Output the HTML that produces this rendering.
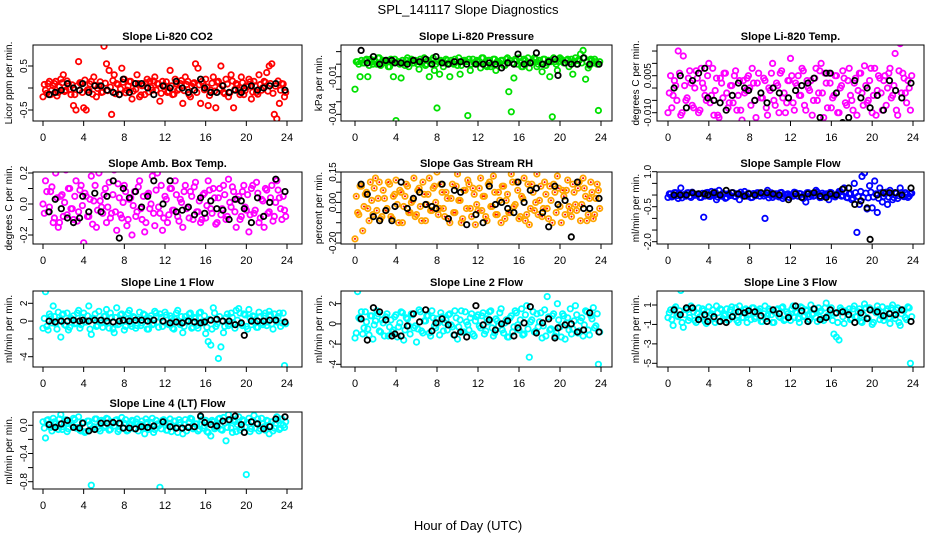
<!DOCTYPE html>
<html><head><meta charset="utf-8"><style>
html,body{margin:0;padding:0;background:#fff;}
svg{display:block;font-family:"Liberation Sans",Arial,sans-serif;}
</style></head><body>
<svg id="chart" width="936" height="540" viewBox="0 0 936 540" xmlns="http://www.w3.org/2000/svg">
<rect width="936" height="540" fill="#fff"/>
<text x="468" y="14" text-anchor="middle" font-size="13">SPL_141117  Slope Diagnostics</text>
<text x="468" y="530" text-anchor="middle" font-size="13">Hour of Day (UTC)</text>
</svg>
<script>
const hours=[0,0.25,0.5,0.75,1,1.25,1.5,1.75,2,2.25,2.5,2.75,
3,3.25,3.5,3.75,4,4.25,4.5,4.75,5,5.25,5.5,5.75,
6,6.25,6.5,6.75,7,7.25,7.5,7.75,8,8.25,8.5,8.75,
9,9.25,9.5,9.75,10,10.25,10.5,10.75,11,11.25,11.5,11.75,
12,12.25,12.5,12.75,13,13.25,13.5,13.75,14,14.25,14.5,14.75,
15,15.25,15.5,15.75,16,16.25,16.5,16.75,17,17.25,17.5,17.75,
18,18.25,18.5,18.75,19,19.25,19.5,19.75,20,20.25,20.5,20.75,
21,21.25,21.5,21.75,22,22.25,22.5,22.75,23,23.25,23.5,23.75];
const coreHours=[0.125,0.375,0.625,0.875,1.125,1.375,1.625,1.875,2.125,2.375,2.625,2.875,
3.125,3.375,3.625,3.875,4.125,4.375,4.625,4.875,5.125,5.375,5.625,5.875,
6.125,6.375,6.625,6.875,7.125,7.375,7.625,7.875,8.125,8.375,8.625,8.875,
9.125,9.375,9.625,9.875,10.125,10.375,10.625,10.875,11.125,11.375,11.625,11.875,
12.125,12.375,12.625,12.875,13.125,13.375,13.625,13.875,14.125,14.375,14.625,14.875,
15.125,15.375,15.625,15.875,16.125,16.375,16.625,16.875,17.125,17.375,17.625,17.875,
18.125,18.375,18.625,18.875,19.125,19.375,19.625,19.875,20.125,20.375,20.625,20.875,
21.125,21.375,21.625,21.875,22.125,22.375,22.625,22.875,23.125,23.375,23.625,23.875];
const blackHours=[0.6,1.2,1.8,2.4,3.0,3.6,3.9,4.5,5.1,5.7,
6.3,6.9,7.5,7.9,8.5,9.1,9.7,10.3,10.9,11.8,
12.5,13.1,13.7,14.3,14.9,15.5,15.9,16.5,17.1,17.7,
18.3,18.9,19.5,19.8,20.5,21.1,21.7,22.3,22.9,23.8];
const xTicks=[0,4,8,12,16,20,24];

const co2Vals=[-20,-5,10,-15,5,15,-10,20,30,-5,10,-15,
-40,-50,60,10,-45,-50,-5,15,25,-20,5,-10,
95,55,40,-60,30,10,-15,45,20,-5,15,-25,
10,30,-20,5,-15,20,15,-5,25,10,-30,15,
5,-10,40,-15,20,-5,10,-35,25,15,-20,10,
55,45,-35,10,20,-40,-5,25,-45,15,50,-10,
20,-20,30,-45,10,-5,25,-15,5,20,-25,15,
-10,30,-5,15,35,50,55,-60,-70,-35,10,-20];
const co2Core=[8,-12,15,-5,10,-18,3,12,-8,16,-3,7,
-15,5,12,-10,18,-4,9,-14,6,-1,14,-9,
11,-6,2,17,-13,8,-2,13,-11,4,15,-7,
-3,10,-16,6,12,-9,1,16,-5,9,-12,3,
14,-8,5,-14,10,-2,17,-6,8,-15,4,12,
-10,7,15,-4,2,-17,11,-7,13,-1,6,-13,
9,-11,16,-3,7,-15,12,-6,3,14,-9,5,
-14,8,1,13,-7,10,-12,4,16,-5,9,-10];
const co2Black=[-15,-10,-5,10,0,-5,10,-10,5,5,
-5,-10,-15,20,-10,10,10,0,-15,5,
0,15,0,-10,-5,20,0,-10,-10,5,
-10,-5,-10,0,5,-5,0,5,10,-5];

const presVals=[-20,2,-10,1,3,-10,4,0,2,5,-1,3,
1,-2,4,-10,-45,2,-11,1,3,-2,4,1,
2,-4,1,5,0,-10,3,-5,-35,-8,2,1,
3,-10,1,4,-1,-8,2,3,-41,-5,4,1,
2,-3,5,-1,3,-2,4,-5,2,3,-1,4,
-22,-38,-11,3,5,-2,4,1,-3,2,5,-2,
3,-6,4,1,-10,-42,2,-5,5,3,1,4,
2,-8,5,3,8,11,-12,-3,4,1,2,-37];
const presCore=[2,0,3,1,4,-1,2,3,0,5,1,2,
3,-2,1,4,2,0,3,-1,5,2,1,3,
0,4,2,-1,3,1,5,0,2,3,-2,4,
1,3,0,2,5,-1,3,2,4,0,1,3,
2,5,1,-2,3,0,4,2,1,3,-1,5,
3,1,4,0,2,-2,3,5,1,2,4,0,
1,4,-1,3,2,5,0,2,4,1,3,-2,
4,2,0,3,1,5,2,-1,3,4,0,2];
const presBlack=[11,1,6,0,3,3,1,1,0,3,
2,4,0,6,1,0,2,2,0,0,
0,1,0,-3,1,0,8,0,1,9,
0,2,4,-9,1,0,0,5,0,0];

const liTempVals=[-10,5,-3,1,15,-11,13,-5,4,2,-8,7,
-10,8,0,-5,10,-3,-11,4,-12,2,6,-2,
-6,1,5,-9,3,-13,-2,4,0,8,-5,2,
-19,-4,3,-11,-1,10,-7,1,6,-4,-10,3,
12,-6,2,5,-3,7,-9,0,3,-5,8,-2,
10,-12,2,6,-8,-3,5,-10,1,4,-7,8,
-5,2,-11,6,-2,9,-6,3,-10,8,-1,4,
-9,5,0,8,-3,14,-11,18,6,-2,3,-9];
const liTempCore=[-2,-8,3,-5,6,-10,1,-4,7,-7,0,4,
-9,2,-3,5,-6,8,-1,-11,4,-4,6,-8,
1,-6,7,-3,-9,3,-1,5,-7,2,-12,6,
-4,4,-8,0,6,-5,2,-10,7,-2,-6,3,
5,-9,1,-3,8,-7,3,-1,-11,4,-5,7,
-2,6,-8,2,-4,5,-10,0,7,-6,3,-3,
-9,4,-1,6,-7,1,-5,8,-3,-11,5,-2,
3,-7,6,-4,1,-9,7,-2,4,-6,0,5];
const liTempBlack=[0,5,-8,3,6,8,-4,-5,-6,-9,
-3,2,0,-1,-5,-2,-6,0,-2,-4,
-1,1,2,4,-12,6,6,-2,-14,-12,
3,-4,0,-8,-3,-9,3,-1,-4,2];

const ambVals=[0,15,-5,8,-12,20,-15,5,-8,22,10,-3,
-10,15,-5,12,-25,5,-8,18,2,-15,20,-2,
6,-12,14,-6,22,-17,4,-9,12,-14,3,-20,
8,-5,15,-10,-18,6,-3,18,-14,20,-6,-17,
5,-12,10,-4,15,-8,3,-15,12,-2,8,-10,
14,-5,-12,6,-9,15,-3,10,-13,4,-7,12,
-10,16,-2,8,-15,5,-8,12,-4,-18,10,-6,
14,-12,3,-15,9,-5,12,-8,15,4,-10,-4];
const ambCore=[-6,8,-2,11,-9,4,-12,6,1,-7,10,-3,
5,-11,9,-1,7,-8,3,-13,12,-4,2,-6,
10,-2,-9,6,-5,13,-7,1,8,-10,4,-1,
-8,11,-3,5,-12,7,0,-6,9,-2,12,-9,
3,-7,10,-4,6,-11,1,8,-3,-9,5,11,
-5,2,-10,7,-1,9,-6,4,-12,10,-3,6,
-8,1,11,-5,3,-10,8,-2,6,-7,12,-4,
7,-9,2,10,-6,4,-11,1,9,-3,5,-8];
const ambBlack=[-5,3,-3,-9,-12,-9,5,-5,7,-5,
5,15,-22,10,4,8,-2,5,15,0,
15,-5,-4,-2,-7,4,-6,2,-3,-4,
-10,3,2,-3,-12,4,-8,1,16,8];

const rhVals=[-18,-5,8,-14,4,-3,10,-6,12,2,-8,6,
-4,10,-7,3,11,-10,5,-2,9,-5,0,12,
-6,7,-9,4,-1,12,-4,8,15,-3,5,-7,
2,-10,9,-5,14,1,-8,6,11,-3,7,-11,
-4,12,3,-7,9,-2,13,-6,5,-10,8,1,
-5,14,-2,10,-8,3,12,-6,-11,9,-4,14,
1,-7,10,-3,8,-10,5,13,-2,6,-6,11,
-4,9,-1,7,-9,12,3,-6,10,-8,2,6];
const rhCore=[3,-6,8,-2,5,-9,1,7,-4,10,-7,2,
-3,9,-8,4,-1,6,-10,3,8,-5,1,-7,
6,-2,10,-9,4,-4,7,0,-6,9,-3,5,
-8,2,-5,8,1,-10,6,-3,9,-7,4,-1,
7,-4,3,-9,10,-2,5,-6,1,8,-8,4,
-5,10,-1,6,-7,2,-9,9,-3,5,0,-6,
8,-3,4,-8,1,9,-5,7,-10,3,6,-2,
-7,5,-4,10,-1,7,-9,2,5,-6,9,-3];
const rhBlack=[9,4,-7,-9,-4,-9,-2,10,-3,2,
5,-1,-2,-3,9,-8,6,5,-11,-6,
-10,8,-1,0,-3,-5,10,0,6,7,
-5,-12,8,-1,1,-17,10,-3,-3,2];

const flowVals=[-10,5,-5,10,-15,30,0,-5,10,-10,5,0,
5,-10,-95,10,-5,15,0,-20,20,-5,5,-10,
0,10,-5,5,-20,0,15,-5,5,-10,0,10,
-5,5,-100,20,0,-10,5,-5,10,-15,0,5,
0,-5,10,-5,5,-15,-30,10,0,-5,20,5,
-10,0,5,-20,10,-5,0,15,-5,30,-10,5,
-20,50,-160,-40,80,95,-60,40,-55,60,-75,30,
-30,5,-40,20,-20,10,-15,30,-5,10,-10,5];
const flowCore=[5,-8,10,-3,6,-12,2,9,-5,12,-1,4,
-10,7,-4,11,-6,3,13,-9,1,8,-14,5,
-2,10,-7,4,12,-5,0,8,-11,6,-3,9,
7,-4,2,-12,9,-1,5,-8,11,-6,3,-10,
-5,12,-3,6,-9,1,10,-7,4,-2,13,-11,
8,-6,3,11,-4,-8,5,14,-2,9,-12,6,
-15,10,-6,15,-10,8,-12,12,-8,5,-14,10,
-6,12,-9,4,-11,7,-3,10,-7,2,-5,8];
const flowBlack=[0,0,0,10,5,5,0,10,0,20,
10,5,-5,5,0,10,10,5,0,-20,
5,-10,5,10,-5,-10,5,0,25,30,
-40,-25,-55,-190,0,10,10,10,0,30];

const line1Vals=[-8,33,-10,5,17,-3,10,-18,8,-5,-10,3,
6,-2,12,-4,9,-1,17,-15,3,-6,11,-2,
5,13,-8,4,-13,15,-3,8,-10,2,12,-6,
4,-5,10,-2,7,-9,3,-4,11,-1,8,-6,
10,-3,6,-8,2,12,-4,-13,5,-1,9,-7,
3,-8,10,-2,-14,-23,-27,15,-6,-42,-29,-13,
4,-5,9,-2,12,14,-3,8,-6,13,-4,5,
-7,10,-2,6,-5,11,-3,8,-1,9,-2,-50];
const line1Core=[3,-6,8,-2,5,-9,1,7,-4,9,-7,2,
-3,9,-8,4,-1,6,-9,3,8,-5,1,-7,
6,-2,9,-9,4,-4,7,0,-6,9,-3,5,
-8,2,-5,8,1,-9,6,-3,9,-7,4,-1,
7,-4,3,-9,9,-2,5,-6,1,8,-8,4,
-5,9,-1,6,-7,2,-9,9,-3,5,0,-6,
8,-3,4,-8,1,9,-5,7,-9,3,6,-2,
-7,5,-4,9,-1,7,-9,2,5,-6,9,-3];
const line1Black=[0,-1,0,0,1,0,1,0,1,1,
0,-1,0,1,0,1,1,0,1,0,
-2,-1,-2,0,-1,-2,-1,1,2,0,
0,-4,-2,-16,0,0,0,1,1,-1];

const line2Vals=[-14,32,5,-10,12,-5,8,-15,3,10,-8,1,
7,-12,4,-6,9,-3,12,-16,6,-2,10,-4,
-18,14,-7,3,8,-9,13,-2,5,-11,7,1,
-6,10,-3,13,-15,4,-8,12,-1,6,-10,3,
9,-4,11,-7,2,13,-12,5,-2,15,-9,4,
-13,8,-3,11,-6,15,-10,18,-33,4,-8,10,
2,-14,14,27,-6,8,-12,20,-3,10,-15,6,
15,-5,18,-9,3,-12,13,-6,8,16,-2,-40];
const line2Core=[-9,6,12,-4,2,-11,8,-1,13,-7,4,-12,
10,-3,-8,7,-13,1,11,-6,5,-10,9,-2,
-5,12,-9,3,8,-12,6,-4,1,11,-7,4,
9,-1,-11,6,-3,13,-8,2,-6,10,-12,7,
-2,8,-10,5,12,-4,-9,3,11,-6,1,-13,
6,-8,13,-1,4,-11,9,-5,2,12,-7,-3,
11,-2,-12,7,-5,10,-9,4,-13,8,1,-6,
-10,3,9,-7,6,-1,12,-11,5,-4,10,-8];
const line2Black=[5,-16,16,12,4,-12,-10,-12,-2,10,
2,14,-7,1,5,-1,-11,-8,-13,18,
-1,4,-6,0,3,-12,-4,1,17,-9,
1,5,-14,-4,-1,0,-8,-6,11,-8];

const line3Vals=[-3,5,-11,8,-2,25,-13,6,-6,9,3,-8,
7,-2,4,-9,8,1,-4,9,-7,5,-1,6,
-5,8,2,-6,9,-3,5,-8,1,7,-4,3,
6,-7,9,-1,4,-8,2,6,-3,8,-5,1,
-6,9,3,-4,8,-2,5,-7,10,1,-3,7,
4,-6,12,-2,7,-20,-23,-26,5,-9,3,6,
-4,9,-2,6,-8,11,-3,7,-10,4,9,-5,
8,-2,6,-9,10,-4,7,-11,5,-3,8,-50];
const line3Core=[2,-5,6,-1,4,-8,0,5,-3,7,-6,1,
-2,6,-7,3,-1,5,-8,2,6,-4,0,-6,
5,-1,7,-8,3,-3,6,0,-5,7,-2,4,
-7,1,-4,6,0,-8,5,-2,7,-6,3,-1,
6,-3,2,-8,7,-1,4,-5,0,6,-7,3,
-4,7,-1,5,-6,1,-8,7,-2,4,0,-5,
6,-2,3,-7,0,7,-4,5,-8,2,5,-1,
-6,4,-3,7,-1,5,-8,1,4,-5,7,-2];
const line3Black=[5,0,7,7,-5,0,-7,-2,-7,-8,
-2,3,2,4,3,-1,-7,5,1,-3,
9,4,-7,6,-5,-3,5,2,3,0,
-8,2,-4,5,3,-1,1,0,5,-7];

const line4Vals=[5,-18,8,-3,10,2,-6,15,-2,8,-5,3,
10,-4,12,-8,4,-9,6,-85,-2,9,-5,7,
-3,10,-7,5,-1,8,-6,11,3,-8,2,7,
-5,9,-2,6,-12,4,-3,10,-6,2,-88,7,
3,-7,9,-2,6,-10,4,-12,8,-3,10,-5,
2,-8,12,-4,7,-10,-15,5,-3,9,-6,11,
-22,15,-4,8,-9,12,-3,6,-70,10,-5,14,
3,-8,10,-2,7,-12,5,-4,12,-6,9,-3];
const line4Core=[-4,7,2,-8,5,-1,9,-6,3,-9,6,0,
8,-3,-7,4,-10,6,1,-5,9,-2,-8,5,
-1,9,-6,3,7,-9,2,-4,8,-7,0,6,
5,-8,1,-3,9,-6,4,-10,7,-1,-5,8,
-7,3,-9,6,-2,8,-4,1,-8,5,9,-3,
2,-6,8,-1,-9,4,7,-5,0,10,-7,3,
-3,6,-10,5,1,-7,8,-2,4,-9,6,-4,
9,-5,2,-7,6,-1,-8,3,7,-4,0,5];
const line4Black=[1,-3,2,7,-3,-4,3,-8,-6,3,
3,4,3,-4,-4,-5,-2,-3,-1,5,
-2,-4,-4,-3,-2,13,4,1,-1,6,
8,13,1,-10,5,2,-5,-2,9,12];

const NS="http://www.w3.org/2000/svg";
const svg=document.getElementById('chart');
function mk(tag,attrs,parent){const e=document.createElementNS(NS,tag);for(const k in attrs)e.setAttribute(k,attrs[k]);(parent||svg).appendChild(e);return e;}

const cols=[{l:33,r:302,x0:43,x24:287,ylab:12,tl:27},{l:341,r:612,x0:355,x24:601,ylab:322,tl:336},{l:657,r:924,x0:668,x24:913,ylab:639,tl:651}];
const rows=[{t:45,b:121},{t:172,b:244},{t:291,b:367},{t:412,b:489}];

const panels=[
{id:'co2',title:'Slope Li-820 CO2',ylab:'Licor ppm per min.',col:0,row:0,vals:co2Vals,core:co2Core,blk:co2Black,unit:0.01,color:'#ff0000',ref:[0.5,66,-0.5,110],ticks:[0.5,0,-0.5],labels:['0.5','','-0.5']},
{id:'pressure',title:'Slope Li-820 Pressure',ylab:'kPa per min.',col:1,row:0,vals:presVals,core:presCore,blk:presBlack,unit:0.001,color:'#00e000',ref:[-0.01,76.7,-0.04,114.3],ticks:[0.01,0,-0.01,-0.02,-0.03,-0.04],labels:['','','-0.01','','','-0.04']},
{id:'li-temp',title:'Slope Li-820 Temp.',ylab:'degrees C per min.',col:2,row:0,vals:liTempVals,core:liTempCore,blk:liTempBlack,unit:0.001,color:'#ff00ff',ref:[0.005,75.7,-0.010,112.7],ticks:[0.015,0.010,0.005,0,-0.005,-0.010],labels:['','','0.005','','','-0.010']},
{id:'amb-temp',title:'Slope Amb. Box Temp.',ylab:'degrees C per min.',col:0,row:1,vals:ambVals,core:ambCore,blk:ambBlack,unit:0.01,color:'#ff00ff',ref:[0.2,173,-0.2,235],ticks:[0.2,0.1,0,-0.1,-0.2],labels:['0.2','','0.0','','-0.2']},
{id:'rh',title:'Slope Gas Stream RH',ylab:'percent per min.',col:1,row:1,vals:rhVals,core:rhCore,blk:rhBlack,unit:0.01,color:'#ffa500',inner:'#ff0000',ref:[0.15,172,-0.20,243],ticks:[0.15,0.10,0.05,0,-0.05,-0.10,-0.15,-0.20],labels:['0.15','','','0.00','','','','-0.20']},
{id:'sample-flow',title:'Slope Sample Flow',ylab:'ml/min per min.',col:2,row:1,vals:flowVals,core:flowCore,blk:flowBlack,unit:0.01,color:'#0000ff',ref:[1.0,171.7,-2.0,241.7],ticks:[1,0.5,0,-0.5,-1,-1.5,-2],labels:['1.0','','','-0.5','','','-2.0']},
{id:'line1-flow',title:'Slope Line 1 Flow',ylab:'ml/min per min.',col:0,row:2,vals:line1Vals,core:line1Core,blk:line1Black,unit:0.1,color:'#00ffff',ref:[2,303.3,-4,356.7],ticks:[2,0,-2,-4],labels:['2','0','','-4']},
{id:'line2-flow',title:'Slope Line 2 Flow',ylab:'ml/min per min.',col:1,row:2,vals:line2Vals,core:line2Core,blk:line2Black,unit:0.1,color:'#00ffff',ref:[2,303.7,-4,364.3],ticks:[2,0,-2,-4],labels:['2','0','-2','-4']},
{id:'line3-flow',title:'Slope Line 3 Flow',ylab:'ml/min per min.',col:2,row:2,vals:line3Vals,core:line3Core,blk:line3Black,unit:0.1,color:'#00ffff',ref:[1,305,-5,363.3],ticks:[1,-1,-3,-5],labels:['1','-1','-3','-5']},
{id:'line4-flow',title:'Slope Line 4 (LT) Flow',ylab:'ml/min per min.',col:0,row:3,vals:line4Vals,core:line4Core,blk:line4Black,unit:0.01,color:'#00ffff',ref:[0,425.3,-0.8,481.7],ticks:[0,-0.2,-0.4,-0.6,-0.8],labels:['0.0','','-0.4','','-0.8']}
];

panels.forEach(p=>{
  const c=cols[p.col],r=rows[p.row];
  const g=mk('g',{});
  
  
  const xs=h=>c.x0+(h/24)*(c.x24-c.x0);
  const ys=v=>p.ref[1]+(v-p.ref[0])*(p.ref[3]-p.ref[1])/(p.ref[2]-p.ref[0]);
  const t=mk('text',{x:(c.l+c.r)/2,y:r.t-5,'text-anchor':'middle','font-size':'11','font-weight':'bold'},g);
  t.textContent=p.title;
  
  
  const yl=mk('text',{x:c.ylab,y:(r.t+r.b)/2,'text-anchor':'middle','font-size':'10',transform:`rotate(-90 ${c.ylab} ${(r.t+r.b)/2})`},g);
  yl.textContent=p.ylab;
  
  
  const cid='clip-'+p.id;
  const cp=mk('clipPath',{id:cid},g);mk('rect',{x:c.l,y:r.t,width:c.r-c.l,height:r.b-r.t},cp);
  const pts=mk('g',{'clip-path':`url(#${cid})`},g);
  function dot(h,v,color,name){
    const e=mk('circle',{cx:xs(h).toFixed(1),cy:ys(v).toFixed(1),r:2.7,fill:'none',stroke:color,'stroke-width':1.8},pts);
    
    
    if(p.inner&&color!=='#000'){mk('circle',{cx:xs(h).toFixed(1),cy:ys(v).toFixed(1),r:1,fill:p.inner},pts);}
  }
  p.core.forEach((v,i)=>dot(coreHours[i],v*p.unit,p.color,'point'));
  p.vals.forEach((v,i)=>dot(hours[i],v*p.unit,p.color,'point'));
  p.blk.forEach((v,i)=>dot(blackHours[i],v*p.unit,'#000','black-point'));
  const box=mk('rect',{x:c.l,y:r.t,width:c.r-c.l,height:r.b-r.t,fill:'none',stroke:'#000','stroke-width':1},g);
  
  
  xTicks.forEach(h=>{
    const x=xs(h);
    mk('line',{x1:x,y1:r.b,x2:x,y2:r.b+5,stroke:'#000'},g);
    const tl=mk('text',{x:x,y:r.b+20,'text-anchor':'middle','font-size':'11'},g);
    tl.textContent=String(h);
    
    
  });
  p.ticks.forEach((v,i)=>{
    const y=ys(v);
    mk('line',{x1:c.l-5,y1:y,x2:c.l,y2:y,stroke:'#000'},g);
    if(p.labels[i]){
      const tl=mk('text',{x:c.tl,y:y,'text-anchor':'middle','font-size':'10',transform:`rotate(-90 ${c.tl} ${y})`},g);
      tl.textContent=p.labels[i];
      
      
    }
  });
});
</script>
</body></html>
